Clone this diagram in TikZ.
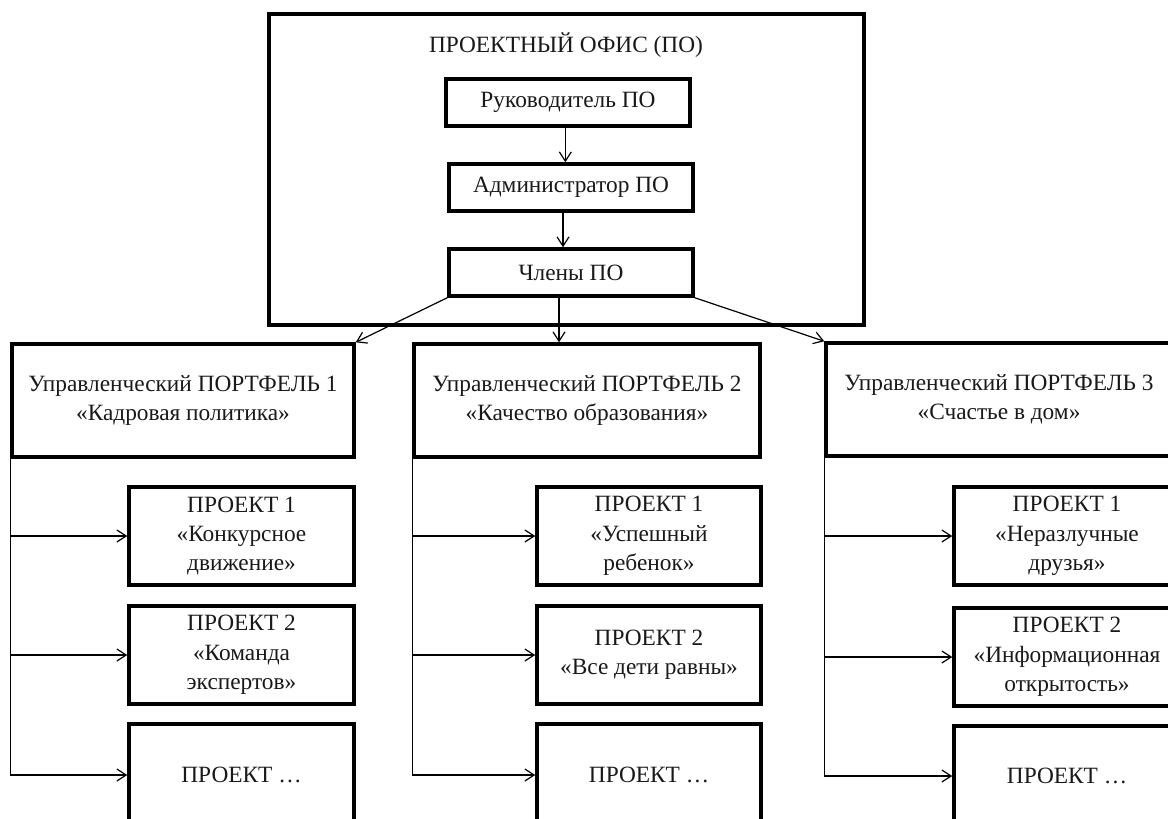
\documentclass[tikz,border=0pt]{standalone}
\usepackage{fontspec}
\setmainfont{Liberation Serif}
\usetikzlibrary{arrows.meta}
% a framed box given by its corners (in pixel units of the picture)
\newcommand\framedbox[6]{%
  \node[box, minimum width={(#4-#2)*0.75pt}, minimum height={(#5-#3)*0.75pt}]
    (#1) at ({(#2+#4)/2},{(#3+#5)/2}) {#6};}
\begin{document}
\begin{tikzpicture}[x=0.75pt,y=-0.75pt,
  box/.style={draw, line width=2.6pt, inner sep=0pt, rectangle, align=center,
    font=\fontsize{17.5}{22}\selectfont, text=black!90},
  label/.style={inner sep=0pt, font=\fontsize{17.5}{22}\selectfont, text=black!90},
  arr/.style={-{Straight Barb[length=7pt,width=9pt]}, line width=0.9pt}]
\useasboundingbox (0,0) rectangle (1168,818);
\fill[white] (0,0) rectangle (1168,818);
\clip (0,0) rectangle (1168,818);

% project office with its internal chain
\framedbox{office}{269}{14}{864}{325}{}
\node[label] (title) at (566,45) {ПРОЕКТНЫЙ ОФИС (ПО)};
\framedbox{head}{446}{79}{690}{126}{Руководитель ПО}
\framedbox{admin}{449}{164}{693}{211}{Администратор ПО}
\framedbox{members}{449}{249}{693}{296}{Члены ПО}

\draw[arr] ([xshift=-2]head.south) -- ([xshift=-2]head.south |- admin.north);
\draw[arr] ([xshift=-6]admin.south) -- ([xshift=-6]admin.south |- members.north);

% portfolios
\framedbox{pf1}{12}{344}{354}{457}{Управленческий ПОРТФЕЛЬ 1\\«Кадровая политика»}
\framedbox{pf2}{414}{344}{760}{457}{Управленческий ПОРТФЕЛЬ 2\\«Качество образования»}
\framedbox{pf3}{826}{343}{1172}{456}{Управленческий ПОРТФЕЛЬ 3\\«Счастье в дом»}

\draw[arr] (members.south west) -- (pf1.north east);
\draw[arr] ([xshift=-9]members.south) -- ([xshift=-9]members.south |- pf2.north);
\draw[arr] (members.south east) -- (pf3.north west);

% projects, portfolio 1
\framedbox{p11}{129}{487}{354}{585}{ПРОЕКТ 1\\«Конкурсное\\движение»}
\framedbox{p12}{129}{606}{354}{704}{ПРОЕКТ 2\\«Команда\\экспертов»}
\framedbox{p13}{129}{724}{354}{826}{ПРОЕКТ …}

% projects, portfolio 2
\framedbox{p21}{537}{487}{761}{585}{ПРОЕКТ 1\\«Успешный\\ребенок»}
\framedbox{p22}{537}{606}{761}{704}{ПРОЕКТ 2\\«Все дети равны»}
\framedbox{p23}{537}{724}{761}{826}{ПРОЕКТ …}

% projects, portfolio 3
\framedbox{p31}{954}{487}{1180}{585}{ПРОЕКТ 1\\«Неразлучные\\друзья»}
\framedbox{p32}{954}{608}{1180}{706}{ПРОЕКТ 2\\«Информационная\\открытость»}
\framedbox{p33}{954}{726}{1180}{826}{ПРОЕКТ …}

% tree connectors from each portfolio to its projects
\foreach \pf/\a/\b/\c in {pf1/p11/p12/p13, pf2/p21/p22/p23, pf3/p31/p32/p33}{
  \draw[line width=0.9pt] (\pf.south west) -- (\pf.south west |- \c.west);
  \draw[arr] (\pf.south west |- \a.west) -- (\a.west);
  \draw[arr] (\pf.south west |- \b.west) -- (\b.west);
  \draw[arr] (\pf.south west |- \c.west) -- (\c.west);
}
\end{tikzpicture}
\end{document}
